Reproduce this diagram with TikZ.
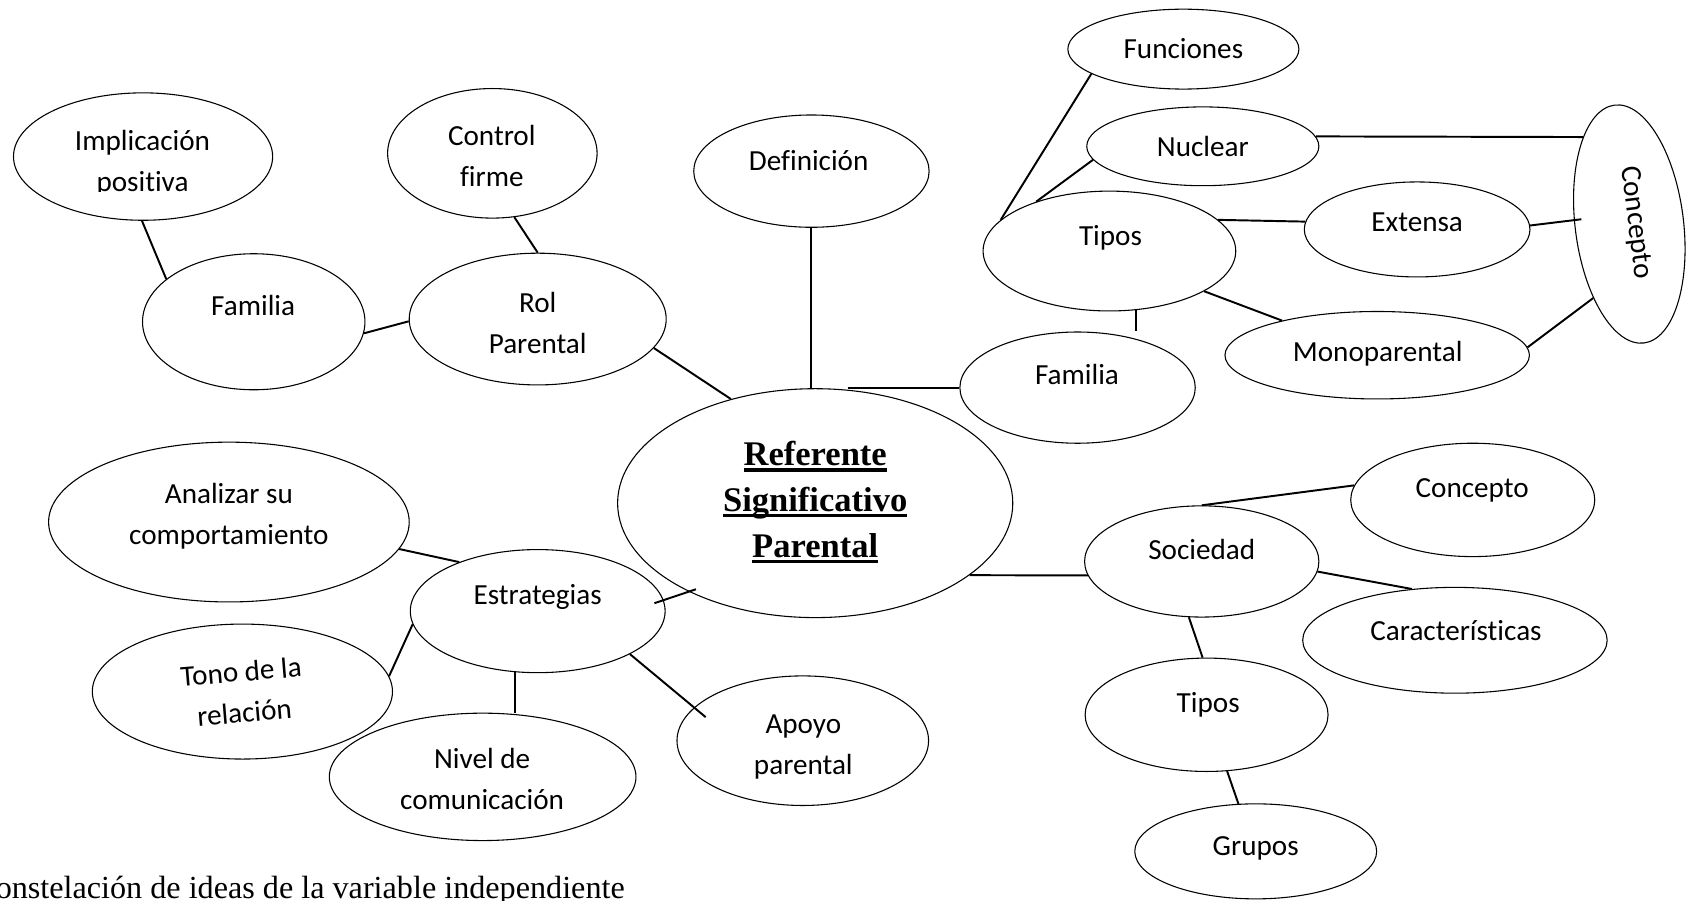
\documentclass[tikz,border=0pt]{standalone}
\usepackage{fontspec}
\setmainfont{Carlito}[Ligatures=NoCommon]
\newfontfamily\timesFont{Liberation Serif}
\usetikzlibrary{shapes.geometric}
\newcommand*{\scalePic}{0.5pt}
\newcommand*{\bubble}[5]{% name, x, y, half width, half height
    \node[bubble, minimum width={2*#4*\scalePic}, minimum height={2*#5*\scalePic}] (#1) at (#2,#3) {};
}
\newcommand*{\word}[4]{\node[word] (#1) at (#2,#3) {#4};} % name, x, baseline, text
\newcommand*{\stackText}[1]{\begin{tabular}[t]{@{}c@{}}#1\end{tabular}}
\newcommand*{\ulWord}[1]{\setbox0=\hbox{#1}\rlap{\rule[-2.6pt]{\wd0}{1.4pt}}\box0}
\tikzset{
    bubble/.style={draw, ellipse, inner sep=0pt, line width=0.5pt},
    word/.style={anchor=base, inner sep=0pt, font=\fontsize{13.5}{19}\selectfont},
    title/.style={anchor=base, inner sep=0pt, font=\timesFont\bfseries\fontsize{16}{21.25}\selectfont},
    note/.style={anchor=base east, inner sep=0pt, font=\timesFont\fontsize{14.9}{17}\selectfont},
    link/.style={line width=0.9pt}
}

\begin{document}
\begin{tikzpicture}[x=\scalePic, y=-\scalePic]
\useasboundingbox (0,0) rectangle (1568,834);
% left branch
\bubble{implicacion}{132.5}{145}{120}{59}
\bubble{familiaL}{235}{298}{103}{63}
\bubble{control}{456}{142}{97}{60}
\bubble{rol}{498}{295.5}{119}{61}
\bubble{definicion}{751.5}{158.5}{109}{52}
\bubble{referente}{755}{466}{183}{106}
% top right
\bubble{funciones}{1096}{45.5}{107}{37}
\bubble{nuclear}{1114}{135.5}{107.5}{36.5}
\bubble{tiposA}{1027.5}{232.5}{117}{55.5}
\bubble{extensa}{1312.5}{212.5}{104.5}{44}
\node[bubble, minimum width={222*\scalePic}, minimum height={100.4*\scalePic}, rotate=-83] (conceptoA) at (1509,207.5) {};
\bubble{familiaR}{998}{359}{109}{51.5}
\bubble{mono}{1275.5}{329}{141}{40.5}
% bottom right
\bubble{conceptoB}{1364}{463}{113}{52.5}
\bubble{sociedad}{1113}{520}{108.5}{51.5}
\bubble{caracteristicas}{1347.5}{593}{141}{49}
\bubble{tiposB}{1117.5}{662}{112.5}{52.5}
\bubble{grupos}{1163}{788.5}{112}{44}
% bottom left
\bubble{analizar}{212}{483.5}{167}{74}
\bubble{estrategias}{498}{566}{118}{57}
\bubble{tono}{224.5}{640.5}{139}{62.5}
\bubble{nivel}{447}{719.5}{142}{59}
\bubble{apoyo}{743.5}{686}{116.5}{60}

% texts
\begin{scope}
\clip (0,0) rectangle (400,177.5);
\word{implicacionT}{132}{139}{\stackText{Implicación\\positiva}}
\end{scope}
\word{familiaLT}{234.5}{292}{Familia}
\word{controlT}{455.5}{135}{\stackText{Control\\firme}}
\word{rolT}{498}{289}{\stackText{Rol\\Parental}}
\word{definicionT}{749}{157.5}{Definición}
\node[title] (referenteT) at (755,431.5) {\stackText{\ulWord{Referente}\\\ulWord{Significativo}\\\ulWord{Parental}}};
\word{funcionesT}{1096}{54}{Funciones}
\word{nuclearT}{1114}{144.5}{Nuclear}
\word{tiposAT}{1028.5}{227}{Tipos}
\word{extensaT}{1312.5}{214.5}{Extensa}
\node[word, anchor=center, rotate=-83] (conceptoAT) at (1515,206) {Concepto};
\word{familiaRT}{997.5}{356.5}{Familia}
\word{monoT}{1276}{335}{Monoparental}
\word{conceptoBT}{1363.5}{461}{Concepto}
\word{sociedadT}{1113}{518.5}{Sociedad}
\word{caracteristicasT}{1348.5}{593}{Características}
\word{tiposBT}{1119}{659.5}{Tipos}
\word{gruposT}{1163}{792}{Grupos}
\word{analizarT}{212}{466}{\stackText{Analizar su\\comportamiento}}
\word{estrategiasT}{498}{560}{Estrategias}
\node[word, rotate=4.7] (tonoT) at (224,631) {\stackText{Tono de la\\relación}};
\word{nivelT}{446.5}{712}{\stackText{Nivel de\\comunicación}}
\word{apoyoT}{744}{679}{\stackText{Apoyo\\parental}}
\node[note] (caption) at (579,832) {Constelación de ideas de la variable independiente};

% connectors
\draw[link] (implicacion.269) -- (familiaL.154);
\draw[link] (familiaL.354) -- (rol.181);
\draw[link] (control.289) -- (rol.90);
\draw[link] (rol.346) -- (referente.129);
\draw[link] (definicion.south) -- (definicion.south |- referente.north);
\draw[link] (familiaR.west -| referente.74) -- (familiaR.west);
\draw[link] (referente.335) -- (sociedad.187);
\draw[link] (funciones.195) -- (tiposA.164);
\draw[link] (nuclear.187) -- (tiposA.146);
\draw[link] (nuclear.5) -- (conceptoA.201);
\draw[link] (tiposA.16) -- (extensa.176);
\draw[link, shorten >=-3.5pt] (extensa.2) -- (conceptoA.259);
\draw[link] (tiposA.337) -- (mono.160);
\draw[link] (tiposA.294) -- (tiposA.294 |- familiaR.north);
\draw[link] (mono.3) -- (conceptoA.327);
\draw[link] (sociedad.north) -- (conceptoB.173);
\draw[link] (sociedad.355) -- (caracteristicas.130);
\draw[link] (sociedad.257) -- (tiposB.94);
\draw[link] (tiposB.290) -- (grupos.110);
\draw[link] (analizar.351) -- (estrategias.148);
\draw[link] (tono.6) -- (estrategias.186);
\draw[link, shorten <=-4.5pt, shorten >=-3.5pt] (estrategias.5) -- (referente.215);
\draw[link] (estrategias.250) -- (estrategias.250 |- nivel.north);
\draw[link, shorten >=-7pt] (estrategias.335) -- (apoyo.163);
\end{tikzpicture}
\end{document}
